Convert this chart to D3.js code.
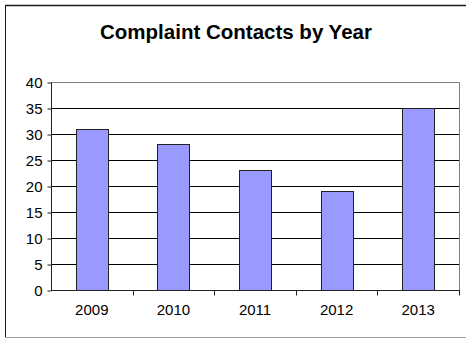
<!DOCTYPE html>
<html>
<head>
<meta charset="utf-8">
<script src="https://cdn.jsdelivr.net/npm/d3@7"></script>
<style>
  html, body { margin: 0; padding: 0; background: #fff; }
  svg { display: block; font-family: "Liberation Sans", Arial, sans-serif; }
</style>
</head>
<body>
<svg id="chart" width="466" height="339"></svg>
<script>
// Chart data
const years = ["2009", "2010", "2011", "2012", "2013"];
const contacts = [31, 28, 23, 19, 35];
const yTicks = [0, 5, 10, 15, 20, 25, 30, 35, 40];
const chartTitle = "Complaint Contacts by Year";

const svg = d3.select("#chart");
const plot = { left: 51, right: 459, top: 82, bottom: 290 };

// Outer chart frame
svg.append("line").attr("x1", 5).attr("x2", 466).attr("y1", 5.5).attr("y2", 5.5)
  .attr("stroke", "#1a1a1a").attr("stroke-width", 1.5);
svg.append("line").attr("x1", 5.5).attr("x2", 5.5).attr("y1", 5).attr("y2", 338)
  .attr("stroke", "#1a1a1a").attr("stroke-width", 1);
svg.append("line").attr("x1", 5).attr("x2", 466).attr("y1", 337.5).attr("y2", 337.5)
  .attr("stroke", "#a0a0a0").attr("stroke-width", 1);

// Title
svg.append("text")
  .attr("x", 236).attr("y", 39)
  .attr("text-anchor", "middle")
  .attr("font-size", "20.5px").attr("font-weight", "bold")
  .attr("fill", "#000")
  .text(chartTitle);

const x = d3.scaleBand().domain(years).range([plot.left, plot.right]).paddingInner(0).paddingOuter(0);
const y = d3.scaleLinear().domain([0, 40]).range([plot.bottom, plot.top]);

// Gridlines
svg.append("g").selectAll("line")
  .data(yTicks.filter(d => d > 0 && d < 40))
  .join("line")
  .attr("x1", plot.left).attr("x2", plot.right)
  .attr("y1", d => Math.round(y(d)) + 0.5).attr("y2", d => Math.round(y(d)) + 0.5)
  .attr("stroke", "#000").attr("stroke-width", 1);

// Plot area border (top and right)
svg.append("path")
  .attr("d", `M${plot.left},${plot.top + 0.5}H${plot.right + 0.5}V${plot.bottom}`)
  .attr("fill", "none").attr("stroke", "#808080").attr("stroke-width", 1);

// Bars
const barW = x.bandwidth() * 0.39;
svg.append("g").selectAll("rect")
  .data(years.map((yr, i) => ({ yr, v: contacts[i] })))
  .join("rect")
  .attr("x", d => Math.round(x(d.yr) + x.bandwidth() / 2 - barW / 2) + 0.5)
  .attr("y", d => Math.round(y(d.v)) + 0.5)
  .attr("width", Math.round(barW))
  .attr("height", d => Math.round(y(0)) - Math.round(y(d.v)))
  .attr("fill", "#9999ff")
  .attr("stroke", "#222").attr("stroke-width", 1);

// Y axis
const yAxis = d3.axisLeft(y).tickValues(yTicks).tickSize(4).tickPadding(5).tickFormat(d3.format("d"));
const gy = svg.append("g").attr("transform", `translate(${plot.left + 0.5},0.5)`).call(yAxis);
gy.select(".domain").attr("d", `M0,${plot.top}V${plot.bottom}`).attr("stroke", "#222");
gy.selectAll(".tick line").attr("stroke", "#222");
gy.selectAll(".tick text").attr("font-size", "15px").attr("fill", "#000")
  .attr("font-family", "Liberation Sans, Arial, sans-serif");

// X axis with category-boundary ticks
const xAxis = d3.axisBottom(x).tickSize(0).tickPadding(14);
const gx = svg.append("g").attr("transform", `translate(0,${plot.bottom + 0.5})`).call(xAxis);
gx.select(".domain").attr("d", `M${plot.left},0H${plot.right + 1}`).attr("stroke", "#222");
gx.selectAll(".tick text").attr("font-size", "15px").attr("fill", "#000")
  .attr("font-family", "Liberation Sans, Arial, sans-serif");
gx.selectAll(".boundary")
  .data(years.slice(1).map(yr => x(yr)).concat([plot.right]))
  .join("line")
  .attr("class", "boundary")
  .attr("x1", d => Math.round(d) + 0.5).attr("x2", d => Math.round(d) + 0.5)
  .attr("y1", 0).attr("y2", 5)
  .attr("stroke", "#222");
</script>
</body>
</html>
